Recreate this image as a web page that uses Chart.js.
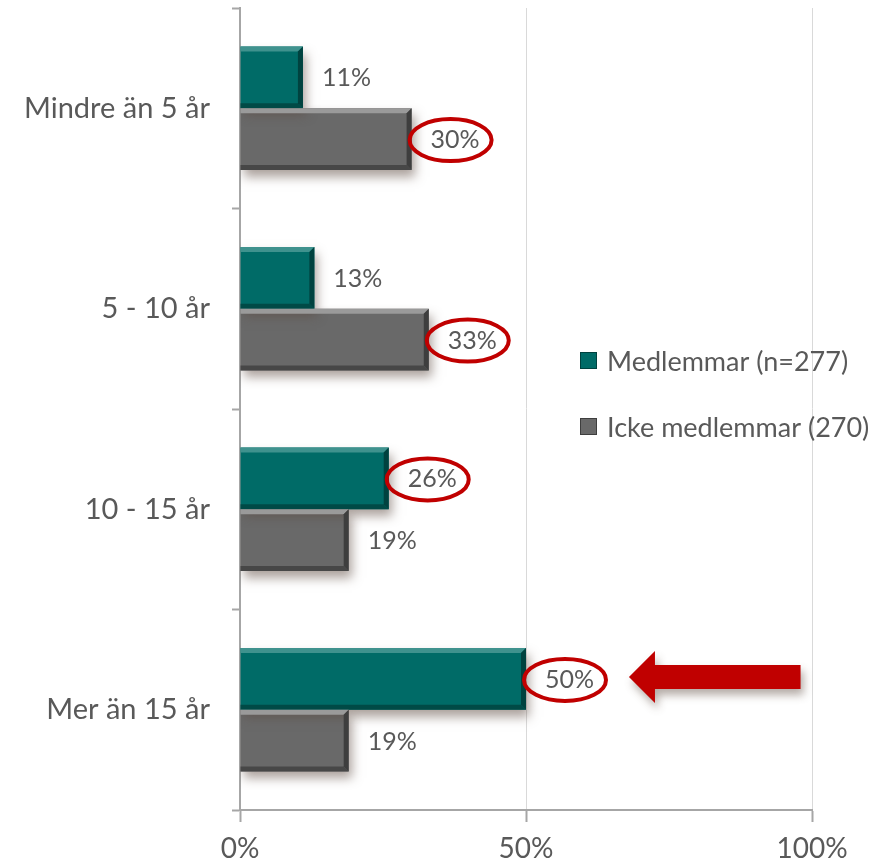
<!DOCTYPE html>
<html>
<head>
<meta charset="utf-8">
<script src="https://cdn.jsdelivr.net/npm/chart.js@4.4.0/dist/chart.umd.min.js"></script>
<style>
  body { margin: 0; background: #fff; }
  #wrap { width: 889px; height: 866px; }
</style>
</head>
<body>
<div id="wrap"><canvas id="tenureChart" width="889" height="866"></canvas></div>
<script>
// Data
var categories = ['Mindre än 5 år', '5 - 10 år', '10 - 15 år', 'Mer än 15 år'];
var members = [11, 13, 26, 50];
var nonMembers = [30, 33, 19, 19];
var seriesNames = ['Medlemmar (n=277)', 'Icke medlemmar (270)'];
var xTicks = [0, 50, 100];

// which labels get a red ring: [datasetIndex, categoryIndex]
var circled = [[1, 0], [1, 1], [0, 2], [0, 3]];
// arrow pointing at the last category, from/to in percent units
var arrowFrom = 98;
var arrowTo = 68;

var textGray = '#595959';
var red = '#c00000';
var fontFamily = 'Lato, "Open Sans", sans-serif';

var barColors = [
    { fill: '#006b67', light: '#3f928e', dark: '#00423f' },
    { fill: '#696969', light: '#9a9a9a', dark: '#3e3e3e' }
];

// shadow under the bars
var shadowPlugin = {
    id: 'barShadow',
    beforeDatasetsDraw: function(chart) {
        var ctx = chart.ctx;
        ctx.save();
        ctx.shadowColor = 'rgba(90, 70, 60, 0.5)';
        ctx.shadowBlur = 10;
        ctx.shadowOffsetX = 3;
        ctx.shadowOffsetY = 7;
    },
    afterDatasetsDraw: function(chart) {
        chart.ctx.restore();
    }
};

// bevel edges, value labels, rings, arrow and legend
var decoPlugin = {
    id: 'deco',
    afterDatasetsDraw: function(chart) {
        var ctx = chart.ctx;
        var xs = chart.scales.x;
        var b = 5;

        chart.data.datasets.forEach(function(ds, di) {
            var meta = chart.getDatasetMeta(di);
            meta.data.forEach(function(bar) {
                var x0 = bar.base, x1 = bar.x;
                var y0 = bar.y - bar.height / 2, y1 = bar.y + bar.height / 2;
                var c = barColors[di];
                ctx.save();
                // top edge
                ctx.fillStyle = c.light;
                ctx.beginPath();
                ctx.moveTo(x0, y0); ctx.lineTo(x1, y0); ctx.lineTo(x1 - b, y0 + b); ctx.lineTo(x0, y0 + b);
                ctx.fill();
                // right edge
                ctx.fillStyle = c.dark;
                ctx.beginPath();
                ctx.moveTo(x1, y0); ctx.lineTo(x1, y1); ctx.lineTo(x1 - b, y1 - b); ctx.lineTo(x1 - b, y0 + b);
                ctx.fill();
                // bottom edge
                ctx.globalAlpha = 0.8;
                ctx.beginPath();
                ctx.moveTo(x0, y1); ctx.lineTo(x1, y1); ctx.lineTo(x1 - b, y1 - b); ctx.lineTo(x0, y1 - b);
                ctx.fill();
                ctx.restore();
            });
        });

        // value labels
        ctx.save();
        ctx.font = '25px ' + fontFamily;
        ctx.fillStyle = textGray;
        ctx.textAlign = 'left';
        ctx.textBaseline = 'middle';
        chart.data.datasets.forEach(function(ds, di) {
            var meta = chart.getDatasetMeta(di);
            meta.data.forEach(function(bar, i) {
                ctx.fillText(ds.data[i] + '%', bar.x + 19, bar.y + 1);
            });
        });
        ctx.restore();

        // red rings
        ctx.save();
        ctx.strokeStyle = red;
        ctx.lineWidth = 4;
        circled.forEach(function(p) {
            var bar = chart.getDatasetMeta(p[0]).data[p[1]];
            ctx.beginPath();
            ctx.ellipse(bar.x + 39, bar.y + 1, 41, 21, 0, 0, Math.PI * 2);
            ctx.stroke();
        });
        ctx.restore();

        // arrow
        var tgt = chart.getDatasetMeta(0).data[3];
        var ax0 = xs.getPixelForValue(arrowFrom), ax1 = xs.getPixelForValue(arrowTo);
        var ay = tgt.y - 2;
        ctx.save();
        ctx.shadowColor = 'rgba(90, 70, 60, 0.45)';
        ctx.shadowBlur = 8;
        ctx.shadowOffsetX = 3;
        ctx.shadowOffsetY = 6;
        ctx.fillStyle = red;
        ctx.beginPath();
        ctx.moveTo(ax1, ay);
        ctx.lineTo(ax1 + 26, ay - 26);
        ctx.lineTo(ax1 + 26, ay - 12);
        ctx.lineTo(ax0, ay - 12);
        ctx.lineTo(ax0, ay + 12);
        ctx.lineTo(ax1 + 26, ay + 12);
        ctx.lineTo(ax1 + 26, ay + 26);
        ctx.closePath();
        ctx.fill();
        ctx.restore();

        // legend
        ctx.save();
        ctx.font = '27px ' + fontFamily;
        ctx.textBaseline = 'middle';
        var ly = [361, 427];
        seriesNames.forEach(function(name, i) {
            var c = barColors[i];
            ctx.fillStyle = c.fill;
            ctx.fillRect(580, ly[i] - 9, 17, 17);
            ctx.strokeStyle = c.dark;
            ctx.lineWidth = 1;
            ctx.strokeRect(580.5, ly[i] - 8.5, 16, 16);
            ctx.fillStyle = textGray;
            ctx.fillText(name, 607, ly[i] + 1);
        });
        ctx.restore();
    }
};

var ctx = document.getElementById('tenureChart').getContext('2d');
var tenureChart = new Chart(ctx, {
    type: 'bar',
    data: {
        labels: categories,
        datasets: [{
            label: seriesNames[0],
            data: members,
            backgroundColor: barColors[0].fill,
            borderWidth: 0,
            categoryPercentage: 0.615,
            barPercentage: 1.0
        }, {
            label: seriesNames[1],
            data: nonMembers,
            backgroundColor: barColors[1].fill,
            borderWidth: 0,
            categoryPercentage: 0.615,
            barPercentage: 1.0
        }]
    },
    options: {
        indexAxis: 'y',
        responsive: false,
        animation: false,
        layout: {
            padding: { top: 8, right: 77, left: 0, bottom: 0 }
        },
        plugins: {
            legend: { display: false },
            tooltip: { enabled: false }
        },
        scales: {
            x: {
                min: 0,
                max: 100,
                afterBuildTicks: function(axis) {
                    axis.ticks = xTicks.map(function(v) { return { value: v }; });
                },
                afterFit: function(axis) {
                    axis.height = 56;
                    axis.paddingLeft = 0;
                    axis.paddingRight = 0;
                },
                border: { display: true, color: '#a6a6a6', width: 2 },
                grid: {
                    color: function(c) { return c.tick && c.tick.value === 0 ? 'rgba(0,0,0,0)' : '#d9d9d9'; },
                    lineWidth: 1,
                    tickColor: '#a6a6a6',
                    tickLength: 12,
                    tickWidth: 2
                },
                ticks: {
                    color: textGray,
                    font: { family: fontFamily, size: 28 },
                    padding: 10,
                    callback: function(v) { return v + '%'; }
                }
            },
            y: {
                afterFit: function(axis) {
                    axis.width = 240;
                    axis.paddingTop = 0;
                    axis.paddingBottom = 0;
                },
                border: { display: true, color: '#a6a6a6', width: 2 },
                grid: {
                    drawOnChartArea: false,
                    tickColor: '#a6a6a6',
                    tickLength: 8,
                    tickWidth: 2
                },
                ticks: {
                    color: textGray,
                    font: { family: fontFamily, size: 29 },
                    padding: 22
                }
            }
        }
    },
    plugins: [shadowPlugin, decoPlugin]
});
</script>
</body>
</html>
